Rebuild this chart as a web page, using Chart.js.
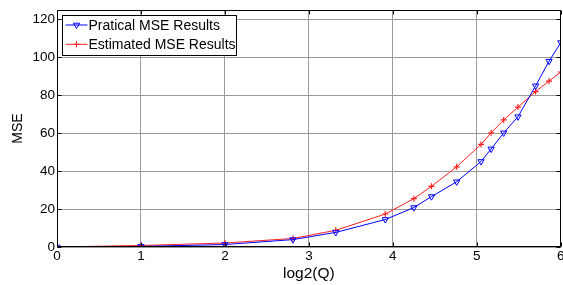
<!DOCTYPE html>
<html>
<head>
<meta charset="utf-8">
<script src="https://cdn.jsdelivr.net/npm/chart.js@4/dist/chart.umd.min.js"></script>
<style>
html,body{margin:0;padding:0;background:#fff;overflow:hidden;}
#wrap{width:563px;height:285px;position:relative;overflow:hidden;}
</style>
</head>
<body>
<div id="wrap"><canvas id="c" width="566" height="285"></canvas></div>
<script>
// log2(Q) positions of the measurements
const xValues = [0, 1, 2, 2.81, 3.32, 3.91, 4.25, 4.46, 4.76, 5.05, 5.17, 5.32, 5.49, 5.70, 5.86, 6];
// Practical (measured) MSE
const practicalMSE = [0, 0.3, 1.3, 3.9, 7.7, 14.5, 20.8, 26.6, 34.4, 45.1, 51.7, 60.2, 68.7, 85.0, 98.0, 107.8];
// Estimated MSE
const estimatedMSE = [0, 0.8, 2.1, 4.5, 8.8, 17.4, 25.5, 32.0, 42.3, 54.1, 60.2, 67.0, 73.8, 82.0, 87.5, 92.3];
const seriesLabels = ["Pratical MSE Results", "Estimated MSE Results"];
const xTicks = [0, 1, 2, 3, 4, 5, 6];
const yTicks = [0, 20, 40, 60, 80, 100, 120];
const xTitle = "log2(Q)";
const yTitle = "MSE";

const FONT = "'Liberation Sans', Arial, Helvetica, sans-serif";
const BLUE = '#0000ff';
const RED = 'rgb(255,30,30)';

const toPts = (ys) => xValues.map((x, i) => ({x: x, y: ys[i]}));

const frame = {
  id: 'frame',
  afterDatasetsDraw(chart) {
    const {ctx, chartArea: a, scales} = chart;
    ctx.save();
    ctx.strokeStyle = '#000';
    ctx.lineWidth = 1;
    const L = Math.round(a.left) + 0.5, R = Math.round(a.right) - 0.5;
    const T = Math.round(a.top) + 0.5, B = Math.round(a.bottom) - 0.5;
    ctx.beginPath();
    ctx.rect(L, T, R - L, B - T);
    const tl = 4;
    xTicks.forEach(v => {
      const px = Math.round(scales.x.getPixelForValue(v)) + 0.5;
      ctx.moveTo(px, B); ctx.lineTo(px, B - tl);
      ctx.moveTo(px, T); ctx.lineTo(px, T + tl);
    });
    yTicks.forEach(v => {
      const py = Math.round(scales.y.getPixelForValue(v)) + 0.5;
      ctx.moveTo(L, py); ctx.lineTo(L + tl, py);
      ctx.moveTo(R, py); ctx.lineTo(R - tl, py);
    });
    ctx.stroke();
    ctx.restore();
  },
  afterDraw(chart) {
    const {ctx, chartArea: a} = chart;
    ctx.save();
    const bx = a.left + 5.5, by = a.top + 5.5, bw = 174, bh = 40;
    ctx.fillStyle = '#fff';
    ctx.fillRect(bx, by, bw, bh);
    ctx.strokeStyle = '#000';
    ctx.lineWidth = 1;
    ctx.strokeRect(bx, by, bw, bh);
    ctx.font = '14px ' + FONT;
    ctx.textBaseline = 'middle';
    chart.data.datasets.forEach((ds, i) => {
      const y = by + 9.5 + i * 19.3;
      ctx.strokeStyle = ds.borderColor;
      ctx.lineWidth = 1;
      ctx.beginPath();
      ctx.moveTo(bx + 3, y); ctx.lineTo(bx + 25, y);
      ctx.stroke();
      ctx.fillStyle = 'rgba(0,0,0,0)';
      Chart.helpers.drawPoint(ctx, {
        pointStyle: ds.pointStyle, rotation: ds.pointRotation || 0,
        radius: ds.pointRadius, borderWidth: 1
      }, bx + 14, y);
      ctx.fillStyle = '#000';
      ctx.fillText(ds.label, bx + 26, y + 1);
    });
    ctx.restore();
  }
};

new Chart(document.getElementById('c'), {
  type: 'line',
  data: {
    datasets: [
      {
        label: seriesLabels[0], data: toPts(practicalMSE),
        borderColor: BLUE, backgroundColor: 'rgba(0,0,0,0)', borderWidth: 1,
        pointStyle: 'triangle', pointRotation: 180, pointRadius: 3.6,
        pointBorderColor: BLUE, pointBackgroundColor: 'rgba(0,0,0,0)', pointBorderWidth: 1,
        tension: 0, fill: false
      },
      {
        label: seriesLabels[1], data: toPts(estimatedMSE),
        borderColor: RED, backgroundColor: 'rgba(0,0,0,0)', borderWidth: 1,
        pointStyle: 'cross', pointRadius: 3, pointBorderColor: RED,
        pointBackgroundColor: RED, pointBorderWidth: 1.2,
        tension: 0, fill: false
      }
    ]
  },
  options: {
    responsive: false, animation: false, devicePixelRatio: 1,
    layout: {padding: {top: 10, right: 2, left: 0, bottom: 0}},
    plugins: {legend: {display: false}, tooltip: {enabled: false}},
    scales: {
      x: {
        type: 'linear', min: 0, max: 6,
        afterBuildTicks(s) { s.ticks = xTicks.map(v => ({value: v})); },
        afterFit(s) { s.height = 38; s.paddingLeft = 0; s.paddingRight = 0; },
        ticks: {color: '#000', font: {family: FONT, size: 13.5}, padding: 1, maxRotation: 0, autoSkip: false},
        grid: {color: '#9a9a9a', lineWidth: 1, tickLength: 0, drawTicks: false},
        border: {display: false},
        title: {display: true, text: xTitle, color: '#000', font: {family: FONT, size: 15.5}, padding: {top: 0, bottom: 2}}
      },
      y: {
        min: 0, max: 125,
        afterBuildTicks(s) { s.ticks = yTicks.map(v => ({value: v})); },
        afterFit(s) { s.width = 57; s.paddingTop = 0; s.paddingBottom = 0; },
        ticks: {color: '#000', font: {family: FONT, size: 13.5}, padding: 2, autoSkip: false},
        grid: {color: '#9a9a9a', lineWidth: 1, tickLength: 0, drawTicks: false},
        border: {display: false},
        title: {display: true, text: yTitle, color: '#000', font: {family: FONT, size: 14}, padding: {top: 10, bottom: 0}}
      }
    }
  },
  plugins: [frame]
});
</script>
</body>
</html>
